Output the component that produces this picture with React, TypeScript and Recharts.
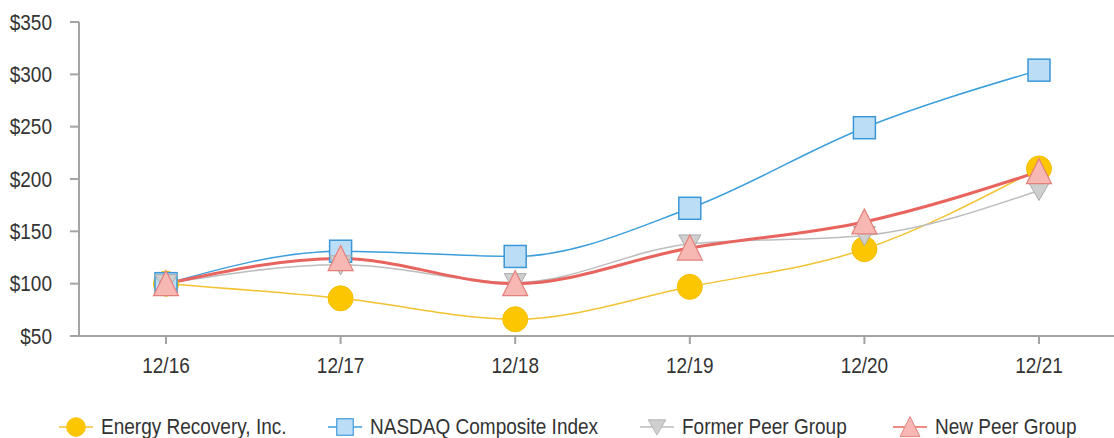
import React from "react";
import { LineChart, Line, XAxis, YAxis } from "recharts";

const years = ["12/16", "12/17", "12/18", "12/19", "12/20", "12/21"];
const energyRecovery = [100, 86, 66, 97, 133, 210];
const nasdaq = [100, 131, 126, 172, 249, 304];
const formerPeers = [100, 118, 101, 138, 146, 189];
const newPeers = [100, 124, 100, 134, 159, 207];
const yTicks = [50, 100, 150, 200, 250, 300, 350];

const data = years.map((year, i) => ({
  year,
  energy: energyRecovery[i],
  nasdaq: nasdaq[i],
  former: formerPeers[i],
  newPeer: newPeers[i],
}));

const FONT = "'Liberation Sans', Arial, sans-serif";
const STRETCH = 1.15;

const CircleDot = (props: any) => {
  const { cx, cy } = props;
  return <circle cx={cx} cy={cy} r={12.5} fill="#FCC700" stroke="#F5BE00" strokeWidth={1} />;
};

const SquareDot = (props: any) => {
  const { cx, cy } = props;
  return <rect x={cx - 11} y={cy - 11} width={22} height={22} fill="#BCDDF6" stroke="#3B97D8" strokeWidth={1.5} />;
};

const DownTriangle = (props: any) => {
  const { cx, cy } = props;
  return (
    <polygon
      points={`${cx - 11},${cy - 9} ${cx + 11},${cy - 9} ${cx},${cy + 10}`}
      fill="#CFCFCF"
      stroke="#ABABAB"
      strokeWidth={1}
    />
  );
};

const UpTriangle = (props: any) => {
  const { cx, cy } = props;
  return (
    <polygon
      points={`${cx},${cy - 13} ${cx + 12.5},${cy + 12} ${cx - 12.5},${cy + 12}`}
      fill="#F7B8B4"
      stroke="#E4807B"
      strokeWidth={1.2}
    />
  );
};

// tick text, a little taller than wide like the original
const XTick = (props: any) => {
  const { x, y, payload } = props;
  return (
    <g transform={`translate(${x},${y}) scale(1,${STRETCH})`}>
      <text textAnchor="middle" dy="0.71em" fill="#333" fontSize={19} fontFamily={FONT}>
        {payload.value}
      </text>
    </g>
  );
};

const YTick = (props: any) => {
  const { x, y, payload } = props;
  return (
    <g transform={`translate(${x},${y}) scale(1,${STRETCH})`}>
      <text textAnchor="end" dy="0.355em" fill="#333" fontSize={19} fontFamily={FONT}>
        {`$${payload.value}`}
      </text>
    </g>
  );
};

const legendItems = [
  { label: "Energy Recovery, Inc.", color: "#F2C230", Dot: CircleDot, scale: 0.75, left: 101 },
  { label: "NASDAQ Composite Index", color: "#3B9EDB", Dot: SquareDot, scale: 0.75, left: 370 },
  { label: "Former Peer Group", color: "#BDBDBD", Dot: DownTriangle, scale: 0.8, left: 682 },
  { label: "New Peer Group", color: "#E8645F", Dot: UpTriangle, scale: 0.8, left: 935 },
];

function ChartLegend() {
  return (
    <>
      {legendItems.map(({ label, color, Dot, scale, left }) => (
        <div
          key={label}
          style={{
            position: "absolute",
            left: left - 44,
            top: 412,
            display: "flex",
            alignItems: "center",
            fontFamily: FONT,
            fontSize: 19,
            color: "#333",
            whiteSpace: "nowrap",
          }}
        >
          <svg width={38} height={30}>
            <line x1={2} y1={15} x2={36} y2={15} stroke={color} strokeWidth={1.5} />
            <g transform={`translate(19,15) scale(${scale})`}>
              <Dot cx={0} cy={0} />
            </g>
          </svg>
          <span style={{ marginLeft: 6, display: "inline-block", transform: `scaleY(${STRETCH})` }}>{label}</span>
        </div>
      ))}
    </>
  );
}

export default function App() {
  return (
    <div style={{ position: "absolute", left: 0, top: 0, width: 1114, height: 438, background: "#fff" }}>
      <LineChart width={1114} height={380} data={data} margin={{ top: 22, right: 0, left: 0, bottom: 0 }}>
        <XAxis
          dataKey="year"
          height={44}
          padding={{ left: 87, right: 75 }}
          axisLine={{ stroke: "#A3A3A3", strokeWidth: 2 }}
          tickLine={{ stroke: "#A3A3A3", strokeWidth: 2 }}
          tickSize={8}
          tickMargin={13}
          tick={<XTick />}
        />
        <YAxis
          width={79}
          domain={[50, 350]}
          ticks={yTicks}
          interval={0}
          axisLine={{ stroke: "#A3A3A3", strokeWidth: 2 }}
          tickLine={{ stroke: "#A3A3A3", strokeWidth: 2 }}
          tickSize={9}
          tickMargin={18}
          tick={<YTick />}
        />
        <Line
          type="monotone"
          dataKey="energy"
          stroke="#F2C230"
          strokeWidth={1.5}
          dot={<CircleDot />}
          isAnimationActive={false}
        />
        <Line
          type="monotone"
          dataKey="nasdaq"
          stroke="#3B9EDB"
          strokeWidth={1.5}
          dot={<SquareDot />}
          isAnimationActive={false}
        />
        <Line
          type="monotone"
          dataKey="former"
          stroke="#BDBDBD"
          strokeWidth={1.5}
          dot={<DownTriangle />}
          isAnimationActive={false}
        />
        <Line
          type="monotone"
          dataKey="newPeer"
          stroke="#E8645F"
          strokeWidth={3}
          dot={<UpTriangle />}
          isAnimationActive={false}
        />
      </LineChart>
      <ChartLegend />
    </div>
  );
}
